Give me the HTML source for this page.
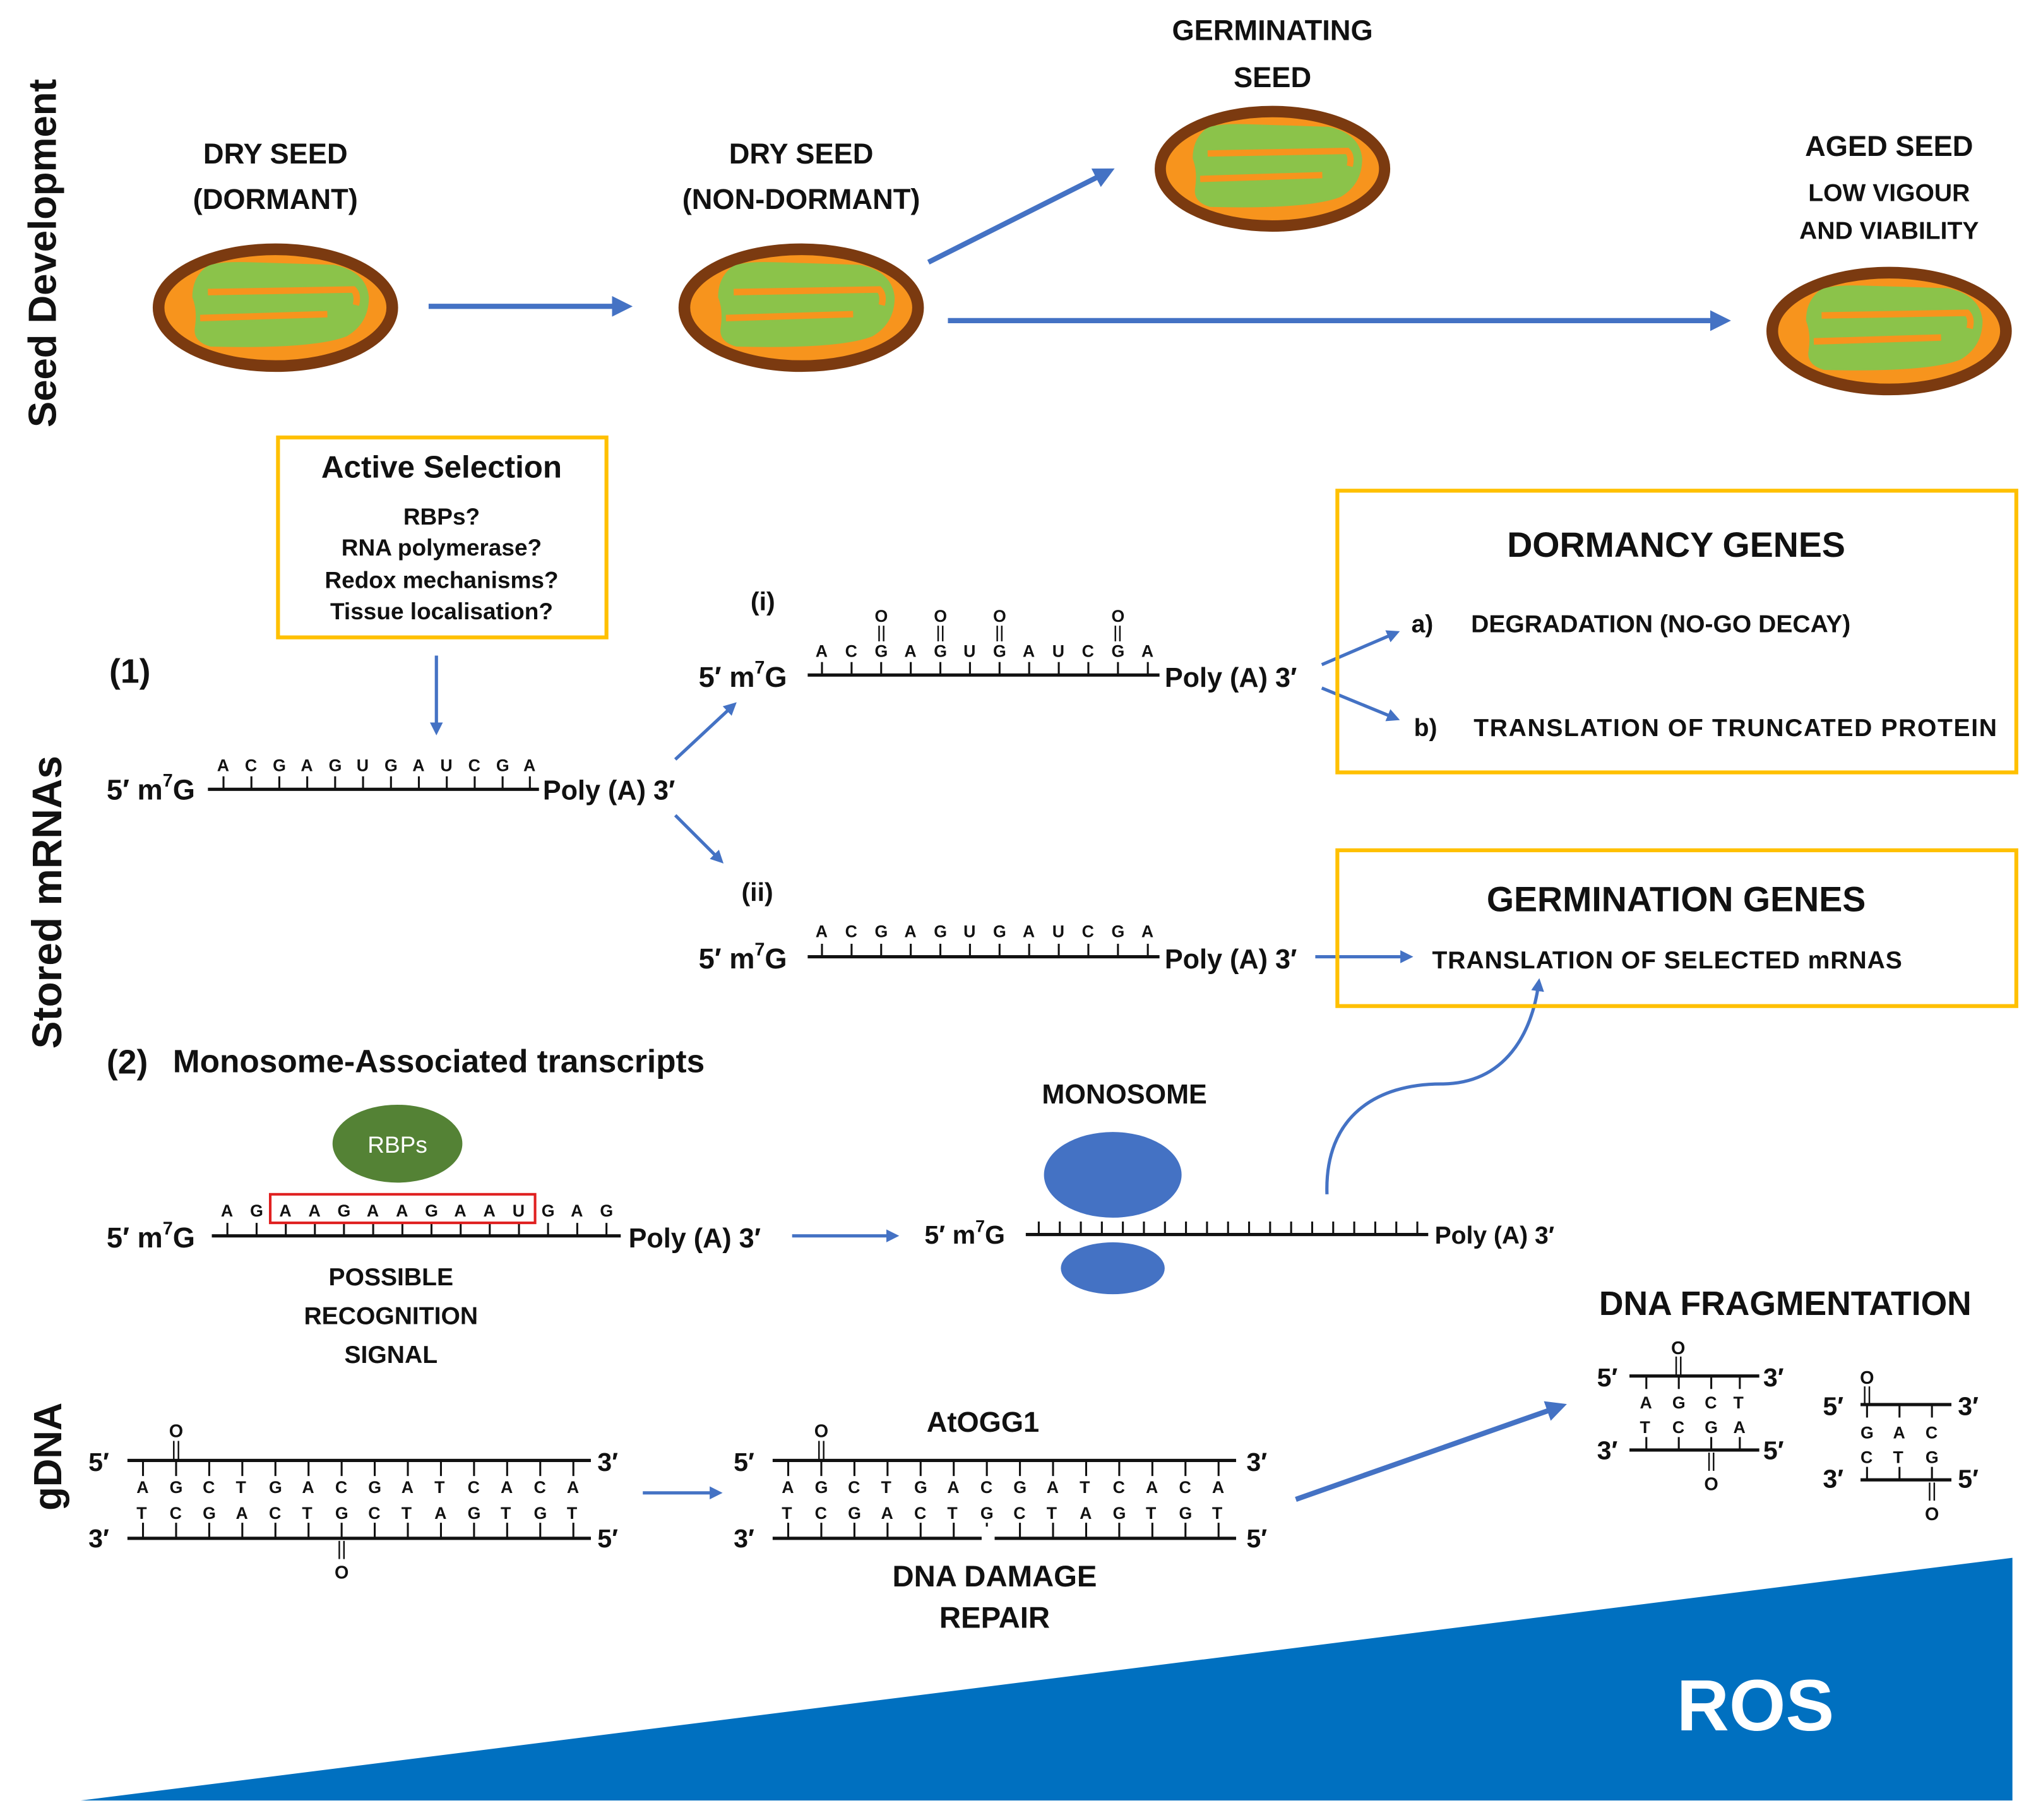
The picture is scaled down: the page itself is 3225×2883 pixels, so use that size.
<!DOCTYPE html>
<html><head><meta charset="utf-8"><style>
html,body{margin:0;padding:0;background:#fff}
svg{display:block}
text{font-family:"Liberation Sans",sans-serif;font-weight:bold;fill:#111}
</style></head><body>
<svg width="3225" height="2883" viewBox="0 0 1568 1402" xmlns="http://www.w3.org/2000/svg">
<defs>
<marker id="ah" markerWidth="4" markerHeight="4" refX="2.2" refY="2" orient="auto" markerUnits="strokeWidth"><path d="M0,0 L4,2 L0,4 z" fill="#4472C4"/></marker>
<g id="seed">
<ellipse cx="0" cy="0" rx="90" ry="45" fill="#F7941D" stroke="#7B3A10" stroke-width="9"/>
<path d="M-55,-30 Q-50,-36 -20,-35 L45,-33 Q70,-28 72,-8 Q72,12 55,22 Q30,32 -50,30 Q-64,26 -62,15 Q-60,2 -64,-8 Q-64,-22 -55,-30z" fill="#8BC34A"/>
<path d="M-52,-12 L60,-14 Q64,-10 62,-2" stroke="#F7941D" stroke-width="5" fill="none"/>
<path d="M-58,8 L40,5" stroke="#F7941D" stroke-width="5" fill="none"/>
</g>
</defs>

<text transform="translate(43,195) rotate(-90)" text-anchor="middle" font-size="30">Seed Development</text>
<text transform="translate(47,695) rotate(-90)" text-anchor="middle" font-size="32">Stored mRNAs</text>
<text transform="translate(47,1122) rotate(-90)" text-anchor="middle" font-size="30">gDNA</text>

<use href="#seed" x="212" y="237"/>
<use href="#seed" x="617" y="237"/>
<use href="#seed" transform="translate(980,130) scale(0.96,0.98)"/>
<use href="#seed" x="1455" y="255"/>
<g font-size="22" text-anchor="middle">
<text x="212" y="126">DRY SEED</text><text x="212" y="161">(DORMANT)</text>
<text x="617" y="126">DRY SEED</text><text x="617" y="161">(NON-DORMANT)</text>
<text x="980" y="31">GERMINATING</text><text x="980" y="67">SEED</text>
<text x="1455" y="120">AGED SEED</text>
<text x="1455" y="155" font-size="19">LOW VIGOUR</text><text x="1455" y="184" font-size="19">AND VIABILITY</text>
</g>
<g stroke="#4472C4" stroke-width="4" fill="none" marker-end="url(#ah)">
<path d="M330,236 H480"/>
<path d="M715,202 L852,133"/>
<path d="M730,247 H1326"/>
</g>

<rect x="214" y="337" width="253" height="154" fill="none" stroke="#FFC000" stroke-width="3"/>
<g text-anchor="middle"><text x="340" y="368" font-size="24">Active Selection</text>
<g font-size="18"><text x="340" y="404">RBPs?</text><text x="340" y="428">RNA polymerase?</text><text x="340" y="453">Redox mechanisms?</text><text x="340" y="477">Tissue localisation?</text></g></g>
<g stroke="#4472C4" stroke-width="2.5" fill="none" marker-end="url(#ah)">
<path d="M336,505 V562"/>
<path d="M520,585 L564,544"/>
<path d="M520,628 L554,662"/>
<path d="M1018,512 L1074,488"/>
<path d="M1018,530 L1074,553"/>
<path d="M1013,737 H1084"/>
<path d="M610,952 H688"/>
<path d="M495,1150 H552"/>
<path d="M1022,920 C1020,860 1060,835 1110,835 C1160,835 1180,795 1185,758"/>
</g>
<path d="M998,1155 L1200,1084" stroke="#4472C4" stroke-width="4" fill="none" marker-end="url(#ah)"/>

<text x="84" y="526" font-size="26">(1)</text>
<text x="82" y="616" font-size="22">5′ m<tspan font-size="14" dy="-10">7</tspan><tspan dy="10">G</tspan></text>
<path d="M160,608 H415" stroke="#111" stroke-width="2.5"/>
<path d="M172,608v-10M193.5,608v-10M215,608v-10M236.5,608v-10M258,608v-10M279.5,608v-10M301,608v-10M322.5,608v-10M344,608v-10M365.5,608v-10M387,608v-10M408,608v-10" stroke="#111" stroke-width="1.5"/>
<text x="167 188.5 210 231.5 253 274.5 296 317.5 339 360.5 382 403" y="594" font-size="13">ACGAGUGAUCGA</text>
<text x="418" y="616" font-size="21">Poly (A) 3′</text>

<text x="578" y="470" font-size="20">(i)</text>
<text x="538" y="529" font-size="22">5′ m<tspan font-size="14" dy="-10">7</tspan><tspan dy="10">G</tspan></text>
<path d="M622,520 H893" stroke="#111" stroke-width="2.5"/>
<path d="M633,520v-10M655.8,520v-10M678.6,520v-10M701.4,520v-10M724.2,520v-10M747,520v-10M769.8,520v-10M792.6,520v-10M815.4,520v-10M838.2,520v-10M861,520v-10M884,520v-10" stroke="#111" stroke-width="1.5"/>
<text x="628 650.8 673.6 696.4 719.2 742 764.8 787.6 810.4 833.2 856 879" y="506" font-size="13">ACGAGUGAUCGA</text>
<path d="M677,482v12M680.5,482v12M722.5,482v12M726,482v12M768,482v12M771.5,482v12M859,482v12M862.5,482v12" stroke="#111" stroke-width="1.2"/>
<text x="673.6 719.2 764.8 856" y="479" font-size="13">OOOO</text>
<text x="897" y="529" font-size="21">Poly (A) 3′</text>

<text x="571" y="694" font-size="20">(ii)</text>
<text x="538" y="746" font-size="22">5′ m<tspan font-size="14" dy="-10">7</tspan><tspan dy="10">G</tspan></text>
<path d="M622,737 H893" stroke="#111" stroke-width="2.5"/>
<path d="M633,737v-10M655.8,737v-10M678.6,737v-10M701.4,737v-10M724.2,737v-10M747,737v-10M769.8,737v-10M792.6,737v-10M815.4,737v-10M838.2,737v-10M861,737v-10M884,737v-10" stroke="#111" stroke-width="1.5"/>
<text x="628 650.8 673.6 696.4 719.2 742 764.8 787.6 810.4 833.2 856 879" y="722" font-size="13">ACGAGUGAUCGA</text>
<text x="897" y="746" font-size="21">Poly (A) 3′</text>

<rect x="1030" y="378" width="523" height="217" fill="none" stroke="#FFC000" stroke-width="3"/>
<text x="1291" y="429" font-size="27" text-anchor="middle">DORMANCY GENES</text>
<text x="1087" y="487" font-size="19">a)</text><text x="1133" y="487" font-size="19">DEGRADATION (NO-GO DECAY)</text>
<text x="1089" y="567" font-size="19">b)</text><text x="1135" y="567" font-size="19" textLength="403">TRANSLATION OF TRUNCATED PROTEIN</text>
<rect x="1030" y="655" width="523" height="120" fill="none" stroke="#FFC000" stroke-width="3"/>
<text x="1291" y="702" font-size="27" text-anchor="middle">GERMINATION GENES</text>
<text x="1103" y="746" font-size="19" textLength="362">TRANSLATION OF SELECTED mRNAS</text>

<text x="82" y="827" font-size="26">(2)</text>
<text x="133" y="826" font-size="25">Monosome-Associated transcripts</text>
<ellipse cx="306" cy="881" rx="50" ry="30" fill="#548235"/>
<text x="306" y="888" font-size="18" text-anchor="middle" style="fill:#fff;font-weight:normal">RBPs</text>
<text x="82" y="961" font-size="22">5′ m<tspan font-size="14" dy="-10">7</tspan><tspan dy="10">G</tspan></text>
<path d="M163,952 H478" stroke="#111" stroke-width="2.5"/>
<path d="M175,952v-10M197.5,952v-10M220,952v-10M242.4,952v-10M264.8,952v-10M287.3,952v-10M309.8,952v-10M332.2,952v-10M354.7,952v-10M377.1,952v-10M399.6,952v-10M422,952v-10M444.5,952v-10M467,952v-10" stroke="#111" stroke-width="1.5"/>
<rect x="208" y="920" width="204" height="22" fill="none" stroke="#E02020" stroke-width="2"/>
<text x="170 192.5 215 237.4 259.8 282.3 304.8 327.2 349.7 372.1 394.6 417 439.5 462" y="937" font-size="13">AGAAGAAGAAUGAG</text>
<text x="484" y="961" font-size="21">Poly (A) 3′</text>
<g font-size="19" text-anchor="middle"><text x="301" y="990">POSSIBLE</text><text x="301" y="1020">RECOGNITION</text><text x="301" y="1050">SIGNAL</text></g>

<text x="866" y="850" font-size="21" text-anchor="middle">MONOSOME</text>
<ellipse cx="857" cy="905" rx="53" ry="33" fill="#4472C4"/>
<ellipse cx="857" cy="977" rx="40" ry="20" fill="#4472C4"/>
<text x="712" y="958" font-size="20">5′ m<tspan font-size="13" dy="-9">7</tspan><tspan dy="9">G</tspan></text>
<path d="M790,951 H1100" stroke="#111" stroke-width="2.5"/>
<path d="M800,951v-10M816.2,951v-10M832.4,951v-10M848.6,951v-10M864.8,951v-10M881,951v-10M897.2,951v-10M913.4,951v-10M929.6,951v-10M945.8,951v-10M962,951v-10M978.2,951v-10M994.4,951v-10M1010.6,951v-10M1026.8,951v-10M1043,951v-10M1059.2,951v-10M1075.4,951v-10M1091.6,951v-10" stroke="#111" stroke-width="1.5"/>
<text x="1105" y="958" font-size="19">Poly (A) 3′</text>

<g font-size="20"><text x="68" y="1133">5′</text><text x="460" y="1133">3′</text><text x="68" y="1192">3′</text><text x="460" y="1192">5′</text></g>
<path d="M98,1125 H455 M98,1185 H455" stroke="#111" stroke-width="2.5"/>
<path d="M110,1125v12M135.5,1125v12M161,1125v12M186.5,1125v12M212,1125v12M237.5,1125v12M263,1125v12M288.5,1125v12M314,1125v12M339.5,1125v12M365,1125v12M390.5,1125v12M416,1125v12M441.5,1125v12 M110,1185v-12M135.5,1185v-12M161,1185v-12M186.5,1185v-12M212,1185v-12M237.5,1185v-12M263,1185v-12M288.5,1185v-12M314,1185v-12M339.5,1185v-12M365,1185v-12M390.5,1185v-12M416,1185v-12M441.5,1185v-12" stroke="#111" stroke-width="1.5"/>
<text x="105 130.5 156 181.5 207 232.5 258 283.5 309 334.5 360 385.5 411 436.5" y="1150" font-size="13">AGCTGACGATCACA</text>
<text x="105 130.5 156 181.5 207 232.5 258 283.5 309 334.5 360 385.5 411 436.5" y="1170" font-size="13">TCGACTGCTAGTGT</text>
<path d="M133.7,1110v14M137.3,1110v14M261.2,1187v14M264.8,1187v14" stroke="#111" stroke-width="1.2"/>
<text x="135.5" y="1107" font-size="14" text-anchor="middle">O</text>
<text x="263" y="1216" font-size="14" text-anchor="middle">O</text>

<text x="757" y="1103" font-size="22" text-anchor="middle">AtOGG1</text>
<g font-size="20"><text x="565" y="1133">5′</text><text x="960" y="1133">3′</text><text x="565" y="1192">3′</text><text x="960" y="1192">5′</text></g>
<path d="M595,1125 H952 M595,1185 H756 M766,1185 H952" stroke="#111" stroke-width="2.5"/>
<path d="M607,1125v12M632.5,1125v12M658,1125v12M683.5,1125v12M709,1125v12M734.5,1125v12M760,1125v12M785.5,1125v12M811,1125v12M836.5,1125v12M862,1125v12M887.5,1125v12M913,1125v12M938.5,1125v12 M607,1185v-12M632.5,1185v-12M658,1185v-12M683.5,1185v-12M709,1185v-12M734.5,1185v-12M760,1176v-3M785.5,1185v-12M811,1185v-12M836.5,1185v-12M862,1185v-12M887.5,1185v-12M913,1185v-12M938.5,1185v-12" stroke="#111" stroke-width="1.5"/>
<text x="602 627.5 653 678.5 704 729.5 755 780.5 806 831.5 857 882.5 908 933.5" y="1150" font-size="13">AGCTGACGATCACA</text>
<text x="602 627.5 653 678.5 704 729.5 755 780.5 806 831.5 857 882.5 908 933.5" y="1170" font-size="13">TCGACTGCTAGTGT</text>
<path d="M630.7,1110v14M634.3,1110v14" stroke="#111" stroke-width="1.2"/>
<text x="632.5" y="1107" font-size="14" text-anchor="middle">O</text>
<g font-size="23" text-anchor="middle"><text x="766" y="1222">DNA DAMAGE</text><text x="766" y="1254">REPAIR</text></g>

<text x="1375" y="1013" font-size="26" text-anchor="middle">DNA FRAGMENTATION</text>
<g font-size="20"><text x="1230" y="1068">5′</text><text x="1358" y="1068">3′</text><text x="1230" y="1124">3′</text><text x="1358" y="1124">5′</text></g>
<path d="M1255,1060 H1355 M1255,1117 H1355" stroke="#111" stroke-width="2.5"/>
<path d="M1268,1060v10M1293,1060v10M1318,1060v10M1340,1060v10M1268,1117v-10M1293,1117v-10M1318,1117v-10M1340,1117v-10" stroke="#111" stroke-width="1.5"/>
<text x="1263 1288 1313 1335" y="1085" font-size="13">AGCT</text>
<text x="1263 1288 1313 1335" y="1104" font-size="13">TCGA</text>
<path d="M1291,1045v14M1294.5,1045v14M1316.3,1119v14M1319.8,1119v14" stroke="#111" stroke-width="1.2"/>
<text x="1292.5" y="1043" font-size="14" text-anchor="middle">O</text>
<text x="1318" y="1148" font-size="14" text-anchor="middle">O</text>
<g font-size="20"><text x="1404" y="1090">5′</text><text x="1508" y="1090">3′</text><text x="1404" y="1146">3′</text><text x="1508" y="1146">5′</text></g>
<path d="M1433,1082 H1503 M1433,1140 H1503" stroke="#111" stroke-width="2.5"/>
<path d="M1438,1082v10M1463,1082v10M1488,1082v10M1438,1140v-10M1463,1140v-10M1488,1140v-10" stroke="#111" stroke-width="1.5"/>
<text x="1433 1458 1483" y="1108" font-size="13">GAC</text>
<text x="1433 1458 1483" y="1127" font-size="13">CTG</text>
<path d="M1436.2,1068v14M1439.8,1068v14M1486.2,1142v14M1489.8,1142v14" stroke="#111" stroke-width="1.2"/>
<text x="1438" y="1066" font-size="14" text-anchor="middle">O</text>
<text x="1488" y="1171" font-size="14" text-anchor="middle">O</text>

<polygon points="62,1387 1550,1200 1550,1387" fill="#0070C0"/>
<text x="1352" y="1333" font-size="56" text-anchor="middle" style="fill:#fff">ROS</text>
</svg>
</body></html>
